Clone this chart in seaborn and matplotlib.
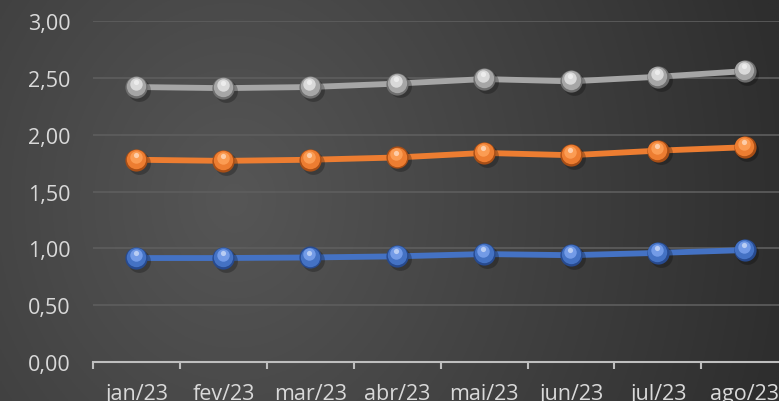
import numpy as np
import pandas as pd
import seaborn as sns
import matplotlib.pyplot as plt
from matplotlib.ticker import FixedLocator, FuncFormatter

# Data
months = ['jan/23', 'fev/23', 'mar/23', 'abr/23', 'mai/23', 'jun/23', 'jul/23', 'ago/23']
serie_cinza = [2.42, 2.41, 2.42, 2.45, 2.49, 2.47, 2.51, 2.56]
serie_laranja = [1.78, 1.77, 1.78, 1.80, 1.84, 1.82, 1.86, 1.89]
serie_azul = [0.915, 0.915, 0.92, 0.93, 0.95, 0.94, 0.96, 0.985]
y_ticks = [0.0, 0.5, 1.0, 1.5, 2.0, 2.5, 3.0]

colors = {'cinza': '#a6a6a6', 'laranja': '#ed7d31', 'azul': '#4472c4'}
highlight = {'cinza': '#e6e6e6', 'laranja': '#ffa45c', 'azul': '#7fa6f0'}
dark = {'cinza': '#6e6e6e', 'laranja': '#a84e16', 'azul': '#274a8f'}

df = pd.DataFrame({
    'mes': months * 3,
    'x': list(range(len(months))) * 3,
    'valor': serie_cinza + serie_laranja + serie_azul,
    'serie': ['cinza'] * 8 + ['laranja'] * 8 + ['azul'] * 8,
})

sns.set_theme(style='dark')
plt.rcParams['font.family'] = ['Open Sans', 'DejaVu Sans']

fig = plt.figure(figsize=(7.79, 4.02), dpi=100)

# background gradient
bg = fig.add_axes([0, 0, 1, 1], zorder=0)
xx, yy = np.meshgrid(np.linspace(0, 1, 400), np.linspace(0, 1, 200))
d = np.sqrt(((xx - 0.3) * 1.6) ** 2 + ((yy - 0.5) * 0.7) ** 2)
shade = np.clip(0x56 - (0x56 - 0x2e) * (d / 1.15), 0x2e, 0x56) / 255.0
bg.imshow(np.dstack([shade, shade, shade]), aspect='auto', extent=[0, 1, 0, 1], origin='lower')
bg.axis('off')

ax = fig.add_axes([0.1194, 0.097, 0.8925, 0.848], zorder=1)
ax.set_facecolor('none')

# main lines
sns.lineplot(data=df, x='x', y='valor', hue='serie', palette=colors, linewidth=4.2,
             legend=False, ax=ax, zorder=3)

# sphere-like markers
for name, vals in [('cinza', serie_cinza), ('laranja', serie_laranja), ('azul', serie_azul)]:
    xs = np.arange(len(months))
    v = np.array(vals)
    ax.scatter(xs + 0.03, v - 0.025, s=270, color='black', alpha=0.25, zorder=4, linewidths=0)
    ax.scatter(xs, v, s=255, color=dark[name], zorder=5, linewidths=0)
    ax.scatter(xs - 0.005, v + 0.008, s=195, color=colors[name], zorder=6, linewidths=0)
    ax.scatter(xs - 0.01, v + 0.027, s=80, color=highlight[name], alpha=0.8, zorder=7, linewidths=0)
    ax.scatter(xs - 0.01, v + 0.043, s=14, color='white', alpha=0.5, zorder=8, linewidths=0)

ax.set_xlim(-0.5, len(months) - 0.5)
ax.set_ylim(0, 3)
ax.set_yticks(y_ticks)
ax.yaxis.set_major_formatter(FuncFormatter(lambda v, p: f'{v:.2f}'.replace('.', ',')))
ax.xaxis.set_major_locator(FixedLocator([i - 0.5 for i in range(len(months) + 1)]))
ax.xaxis.set_major_formatter(FuncFormatter(lambda v, p: ''))
ax.xaxis.set_minor_locator(FixedLocator(list(range(len(months)))))
ax.set_xticklabels(months, minor=True)
ax.tick_params(axis='x', which='major', bottom=True, length=5, width=1.5, color='#bfbfbf', direction='out')
ax.tick_params(axis='x', which='minor', bottom=True, length=0, pad=15, labelsize=15.5, labelcolor='#d9d9d9')
ax.tick_params(axis='y', length=0, pad=16, labelsize=15.5, labelcolor='#d9d9d9')
ax.set_xlabel('')
ax.set_ylabel('')

ax.grid(axis='y', color='#5e5e5e', linewidth=1.2)
ax.grid(axis='x', visible=False)
for s in ['top', 'right', 'left']:
    ax.spines[s].set_visible(False)
ax.spines['bottom'].set_color('#bfbfbf')
ax.spines['bottom'].set_linewidth(1.5)

fig.savefig('out.png', dpi=100)
